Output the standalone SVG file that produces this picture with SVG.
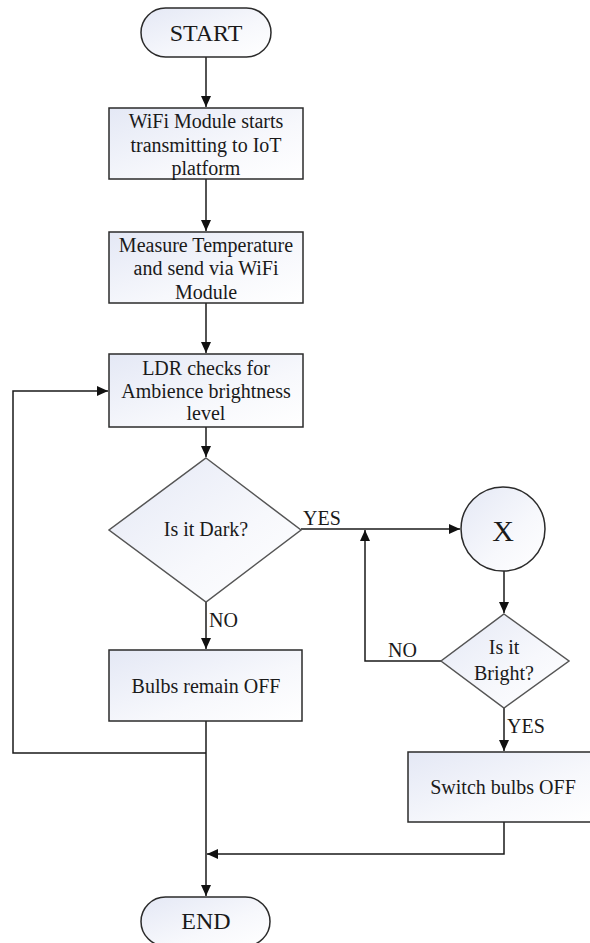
<svg xmlns="http://www.w3.org/2000/svg" width="590" height="943" viewBox="0 0 590 943">
<defs>
<linearGradient id="fillg" x1="0" y1="0" x2="1" y2="1">
<stop offset="0" stop-color="#e4e8f5"/>
<stop offset="0.6" stop-color="#f7f8fc"/>
<stop offset="1" stop-color="#ffffff"/>
</linearGradient>
<marker id="arr" markerUnits="userSpaceOnUse" markerWidth="12" markerHeight="10" refX="11" refY="5" orient="auto">
<path d="M0,0 L11,5 L0,10 Z" fill="#111"/>
</marker>
<style>
.shape{fill:url(#fillg);stroke:#2b2b2b;stroke-width:1.5}
.dia{fill:url(#fillg);stroke:#555;stroke-width:1.5}
.t{font-family:"Liberation Serif","DejaVu Serif",serif;font-size:20px;fill:#1a1a1a;text-anchor:middle;dominant-baseline:central}
.big{font-size:24px}
.lbl{font-family:"Liberation Serif","DejaVu Serif",serif;font-size:20px;fill:#1a1a1a}
.c{fill:none;stroke:#1a1a1a;stroke-width:1.5}
</style>
</defs>
<rect width="590" height="943" fill="#ffffff"/>

<g id="connectors">
<path class="c" d="M206,57 L206,107" marker-end="url(#arr)"/>
<path class="c" d="M206,179 L206,231" marker-end="url(#arr)"/>
<path class="c" d="M206,303 L206,353" marker-end="url(#arr)"/>
<path class="c" d="M206,427 L206,457" marker-end="url(#arr)"/>
<path class="c" d="M206,602 L206,649" marker-end="url(#arr)"/>
<path class="c" d="M206,721 L206,896" marker-end="url(#arr)"/>
<path class="c" d="M206,753 L13,753 L13,391 L108,391" marker-end="url(#arr)"/>
<path class="c" d="M301,529 L460,529" marker-end="url(#arr)"/>
<path class="c" d="M504,571 L504,613" marker-end="url(#arr)"/>
<path class="c" d="M441,661 L365,661 L365,530" marker-end="url(#arr)"/>
<path class="c" d="M504,708 L504,751" marker-end="url(#arr)"/>
<path class="c" d="M504,822 L504,854 L207,854" marker-end="url(#arr)"/>
<text class="lbl" x="303" y="525">YES</text>
<text class="lbl" x="209" y="627">NO</text>
<text class="lbl" x="388" y="657">NO</text>
<text class="lbl" x="507" y="733">YES</text>
</g>

<g id="start">
<rect class="shape" x="141" y="8" width="130" height="49" rx="24.5" ry="24.5"/>
<text class="t big" x="206" y="33">START</text>
</g>

<g id="wifi">
<rect class="shape" x="109" y="108" width="194" height="71"/>
<text class="t" x="206" y="121">WiFi Module starts</text>
<text class="t" x="206" y="145">transmitting to IoT</text>
<text class="t" x="206" y="168">platform</text>
</g>

<g id="measure">
<rect class="shape" x="109" y="232" width="194" height="71"/>
<text class="t" x="206" y="245">Measure Temperature</text>
<text class="t" x="206" y="268">and send via WiFi</text>
<text class="t" x="206" y="292">Module</text>
</g>

<g id="ldr">
<rect class="shape" x="109" y="354" width="194" height="73"/>
<text class="t" x="206" y="368">LDR checks for</text>
<text class="t" x="206" y="391">Ambience brightness</text>
<text class="t" x="206" y="413">level</text>
</g>

<g id="dark">
<polygon class="dia" points="206,458 301,530 206,602 109,530"/>
<text class="t" x="206" y="529">Is it Dark?</text>
</g>

<g id="bulbs-remain">
<rect class="shape" x="109" y="650" width="193" height="71"/>
<text class="t" x="206" y="686">Bulbs remain OFF</text>
</g>

<g id="x-node">
<circle class="shape" cx="503" cy="529" r="42"/>
<text class="t" x="503" y="530" style="font-size:30px">X</text>
</g>

<g id="bright">
<polygon class="dia" points="504,614 569,661 504,708 441,661"/>
<text class="t" x="504" y="647">Is it</text>
<text class="t" x="504" y="673">Bright?</text>
</g>

<g id="switch-off">
<rect class="shape" x="408" y="752" width="192" height="70"/>
<text class="t" x="503" y="787">Switch bulbs OFF</text>
</g>

<g id="end">
<rect class="shape" x="141" y="897" width="129" height="49" rx="24.5" ry="24.5"/>
<text class="t big" x="206" y="921">END</text>
</g>
</svg>
